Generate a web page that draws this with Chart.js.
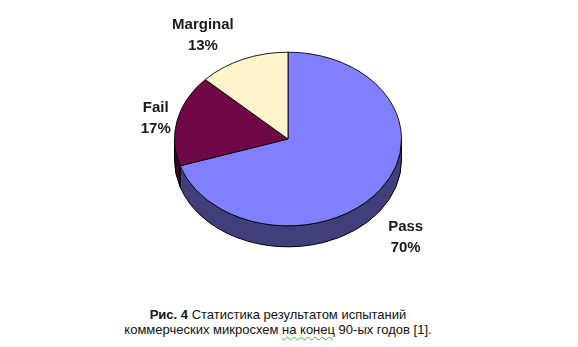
<!DOCTYPE html>
<html>
<head>
<meta charset="utf-8">
<script src="https://cdn.jsdelivr.net/npm/chart.js@4.4.0/dist/chart.umd.min.js"></script>
<style>
  html, body { margin: 0; padding: 0; background: #fff; }
  #wrap { position: relative; width: 578px; height: 347px; overflow: hidden; }
  #pie { position: absolute; left: 0; top: 0; }
  #caption {
    position: absolute; left: 0; width: 556px; top: 307px;
    text-align: center; font-family: "Liberation Sans", Arial, sans-serif;
    font-size: 13px; line-height: 15px; color: #111;
  }
  .sp { text-decoration: underline wavy #4a4; text-decoration-thickness: 1px; text-underline-offset: 2px; }
</style>
</head>
<body>
<div id="wrap">
  <canvas id="pie" width="578" height="290"></canvas>
  <div id="caption"><b>Рис. 4</b> Статистика результатом испытаний<br>коммерческих микросхем <span class="sp">на конец</span> 90-ых годов [1].</div>
</div>
<script>
let labels = ['Pass', 'Fail', 'Marginal'];
let values = [70, 17, 13];
let percentText = ['70%', '17%', '13%'];

let topColors = ['#8080ff', '#700848', '#fff4cc'];
let sideColors = ['#3f3f7c', '#3d0428', '#b0a880'];

// squash the pie into an ellipse and give it a side wall
const pie3d = {
    id: 'pie3d',
    beforeDatasetsDraw(chart, args, opts) {
        const ctx = chart.ctx;
        const arcs = chart.getDatasetMeta(0).data;
        const k = opts.tilt, d = opts.depth;
        ctx.save();
        ctx.lineWidth = 1;
        ctx.strokeStyle = '#000';
        arcs.forEach((arc, i) => {
            const p = arc.getProps(['x', 'y', 'startAngle', 'endAngle', 'outerRadius'], true);
            const a1 = Math.max(p.startAngle, 0);
            const a2 = Math.min(p.endAngle, Math.PI);
            if (a2 <= a1) return;
            ctx.beginPath();
            ctx.ellipse(p.x, p.y, p.outerRadius, p.outerRadius * k, 0, a1, a2);
            ctx.ellipse(p.x, p.y + d, p.outerRadius, p.outerRadius * k, 0, a2, a1, true);
            ctx.closePath();
            ctx.fillStyle = opts.sideColors[i];
            ctx.fill();
            ctx.stroke();
        });
        ctx.restore();
        const a0 = arcs[0];
        ctx.save();
        ctx.translate(a0.x, a0.y);
        ctx.scale(1, k);
        ctx.translate(-a0.x, -a0.y);
    },
    afterDatasetsDraw(chart, args, opts) {
        const ctx = chart.ctx;
        ctx.restore();
        const arcs = chart.getDatasetMeta(0).data;
        const k = opts.tilt, d = opts.depth;
        ctx.save();
        ctx.font = 'bold 15px "Liberation Sans", Arial, sans-serif';
        ctx.fillStyle = '#1a1a1a';
        ctx.textAlign = 'center';
        ctx.textBaseline = 'middle';
        arcs.forEach((arc, i) => {
            const p = arc.getProps(['x', 'y', 'startAngle', 'endAngle', 'outerRadius'], true);
            const mid = (p.startAngle + p.endAngle) / 2;
            const dx = Math.cos(mid), dy = Math.sin(mid);
            let ex = p.x + dx * p.outerRadius;
            let ey = p.y + dy * p.outerRadius * k + (dy > 0 ? d : 0);
            const w = Math.max(ctx.measureText(labels[i]).width, ctx.measureText(percentText[i]).width);
            const h = 42;
            const g = opts.gap;
            const nudge = opts.nudge[i];
            const cx = ex + dx * (g + w / 2) + nudge[0];
            const cy = ey + dy * (g + h / 2) + nudge[1];
            ctx.fillText(labels[i], cx, cy - 10.5);
            ctx.fillText(percentText[i], cx, cy + 10.5);
        });
        ctx.restore();
    }
};

new Chart(document.getElementById('pie'), {
    type: 'pie',
    data: {
        labels: labels,
        datasets: [{
            data: values,
            backgroundColor: topColors,
            borderColor: '#000',
            borderWidth: 1,
            hoverOffset: 0
        }]
    },
    options: {
        responsive: false,
        animation: false,
        events: [],
        layout: { padding: { left: 174, right: 176, top: 25, bottom: 37 } },
        plugins: {
            legend: { display: false },
            tooltip: { enabled: false },
            pie3d: { tilt: 0.765, depth: 21, gap: 7, sideColors: sideColors, nudge: [[6, 10], [0, 4], [-25, 2]] }
        }
    },
    plugins: [pie3d]
});
</script>
</body>
</html>
